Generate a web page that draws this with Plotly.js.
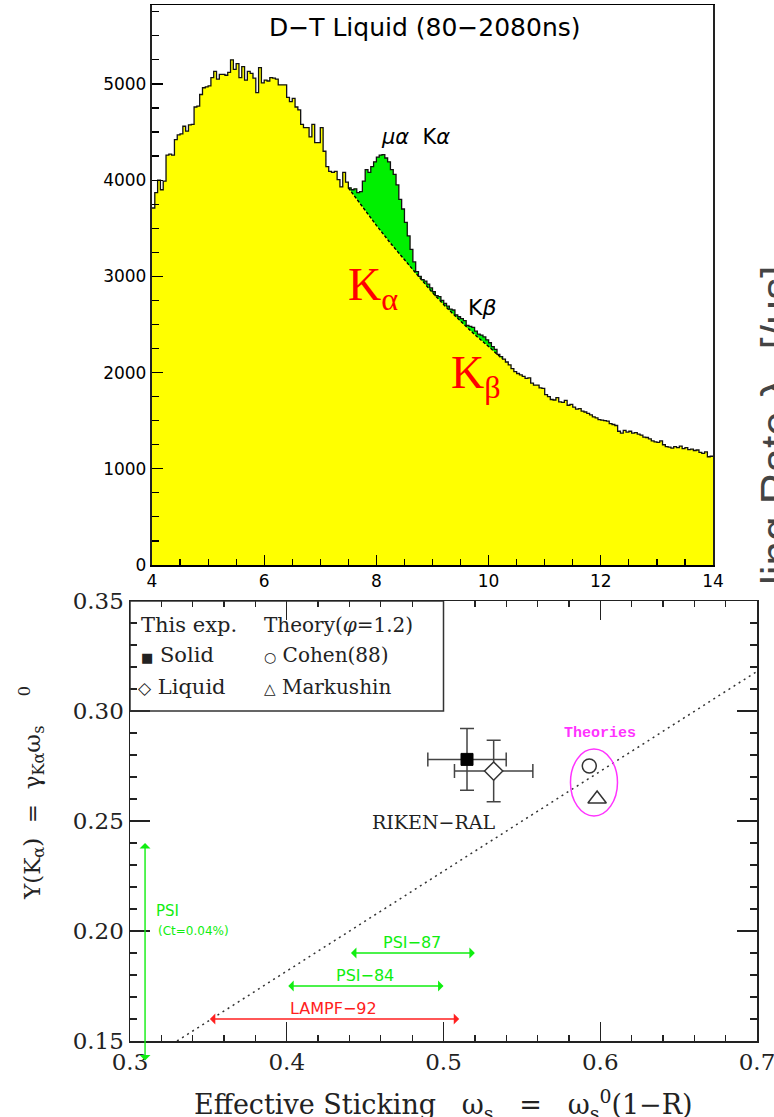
<!DOCTYPE html>
<html><head><meta charset="utf-8">
<script src="https://cdn.plot.ly/plotly-3.0.1.min.js"></script>
<style>html,body{margin:0;padding:0;background:#fff;} #chart{width:774px;height:1117px;}</style>
</head><body><div id="chart"></div>
<script>
const W = 774, H = 1117;

// ---------- Top panel: X-ray energy spectrum (keV), D-T liquid ----------
const binStart = 4.0, binWidth = 0.05;
const counts = [
 3710,3870,4000,3900,3990,4260,4270,4260,4420,4470,4480,4560,4510,4575,4580,4760,4770,4890,4960,4970,
 4980,5065,5130,5050,5100,5100,5090,5120,5250,5150,5210,5065,5180,5040,5130,5110,5060,4910,5170,5010,
 5040,5030,5065,5060,5050,4990,4990,4990,4860,4815,4850,4760,4730,4580,4545,4545,4450,4580,4390,4390,
 4545,4300,4140,4090,4080,4090,4005,3930,4080,3980,3920,3900,3910,3870,3880,3990,4110,4080,4140,4190,
 4240,4260,4265,4230,4190,4110,4060,3950,3800,3700,3560,3420,3280,3150,3050,3000,2965,2950,2920,2880,
 2840,2800,2790,2750,2720,2690,2660,2650,2600,2580,2560,2540,2490,2480,2470,2430,2400,2390,2370,2340,
 2310,2270,2240,2190,2165,2140,2110,2080,2040,2010,1990,1975,1960,1940,1945,1890,1870,1870,1840,1835,
 1770,1750,1720,1715,1740,1695,1690,1710,1660,1670,1640,1620,1625,1600,1590,1575,1560,1540,1530,1510,
 1505,1500,1495,1470,1460,1450,1390,1370,1400,1380,1390,1370,1375,1360,1350,1330,1325,1310,1290,1280,
 1275,1290,1250,1230,1225,1215,1230,1220,1235,1210,1220,1200,1205,1190,1195,1170,1160,1175,1125,1130
];
// background fit under the muonic-alpha K lines (dashed curve)
const bgX = [7.5, 7.75, 8.0, 8.25, 8.5, 8.75, 9.0, 9.25, 9.5, 9.75, 10.0, 10.25];
const bgY = [3920, 3720, 3530, 3345, 3170, 2995, 2830, 2675, 2530, 2395, 2270, 2140];
const topXTicks = [4, 6, 8, 10, 12, 14];

// ---------- Bottom panel: Y(K alpha) vs effective sticking ----------
const expNames = ['Solid', 'Liquid'];
const expX = [0.515, 0.532];
const expY = [0.278, 0.2727];
const expXErr = [0.025, 0.025];
const expYErr = [0.014, 0.014];
const theoryNames = ['Cohen(88)', 'Markushin'];
const theoryX = [0.593, 0.598];
const theoryY = [0.275, 0.260];
const fitX = [0.33, 0.70];
const fitY = [0.15, 0.318];
const otherExp = ['PSI−87', 'PSI−84', 'LAMPF−92'];
const otherLo = [0.44, 0.40, 0.35];
const otherHi = [0.52, 0.50, 0.51];
const otherY = [0.19, 0.175, 0.16];
const otherColor = ['#10ee10', '#10ee10', '#ff2020'];
const psiX = 0.3096, psiLo = 0.1405, psiHi = 0.24;
const theoryEllipse = {x0: 0.581, x1: 0.611, y0: 0.2523, y1: 0.2827};
const bottomXTicks = [0.3, 0.4, 0.5, 0.6, 0.7];
const bottomYTicks = [0.15, 0.20, 0.25, 0.30, 0.35];

// ---------- build ----------
const nb = counts.length;
const edges = counts.map((_, i) => +(binStart + i * binWidth).toFixed(3));
const stepX = edges.concat([+(binStart + nb * binWidth).toFixed(3)]);
const stepY = counts.concat([counts[nb - 1]]);
function bgAt(x) {
  for (let k = 0; k < bgX.length - 1; k++) {
    if (x >= bgX[k] - 1e-9 && x <= bgX[k + 1] + 1e-9) {
      const t = (x - bgX[k]) / (bgX[k + 1] - bgX[k]);
      return bgY[k] + t * (bgY[k + 1] - bgY[k]);
    }
  }
  return null;
}
const gX = [], gLo = [], gHi = [];
for (let i = 0; i < nb; i++) {
  const xl = edges[i], xr = +(xl + binWidth).toFixed(3);
  if (xl < bgX[0] - 1e-9 || xr > bgX[bgX.length - 1] + 1e-9) continue;
  const b1 = bgAt(xl), b2 = bgAt(xr);
  gX.push(xl, xr); gLo.push(b1, b2);
  gHi.push(Math.max(counts[i], b1), Math.max(counts[i], b2));
}

const traces = [
  {x: stepX, y: stepY, mode: 'lines', line: {shape: 'hv', width: 0, color: 'rgba(0,0,0,0)'},
   fill: 'tozeroy', fillcolor: '#ffff00', xaxis: 'x', yaxis: 'y', hoverinfo: 'skip'},
  {x: gX, y: gLo, mode: 'lines', line: {width: 0, color: 'rgba(0,0,0,0)'}, xaxis: 'x', yaxis: 'y', hoverinfo: 'skip'},
  {x: gX, y: gHi, mode: 'lines', line: {width: 0, color: 'rgba(0,0,0,0)'}, fill: 'tonexty',
   fillcolor: '#00f000', xaxis: 'x', yaxis: 'y', hoverinfo: 'skip'},
  {x: bgX, y: bgY, mode: 'lines', line: {color: '#000', width: 1.4, dash: '3px,2px'}, xaxis: 'x', yaxis: 'y'},
  {x: stepX, y: stepY, mode: 'lines', line: {shape: 'hv', color: '#111', width: 1.3}, xaxis: 'x', yaxis: 'y'},

  {x: fitX, y: fitY, mode: 'lines', line: {color: '#333', width: 1.5, dash: '2px,4px'}, xaxis: 'x2', yaxis: 'y2'},
  {x: [expX[0]], y: [expY[0]], name: expNames[0], mode: 'markers', xaxis: 'x2', yaxis: 'y2',
   marker: {symbol: 'square', size: 12, color: '#000', line: {color: '#000', width: 1}},
   error_x: {type: 'data', array: [expXErr[0]], color: '#444', thickness: 1.5, width: 7},
   error_y: {type: 'data', array: [expYErr[0]], color: '#444', thickness: 1.5, width: 7}},
  {x: [expX[1]], y: [expY[1]], name: expNames[1], mode: 'markers', xaxis: 'x2', yaxis: 'y2',
   marker: {symbol: 'diamond', size: 14, color: '#fff', line: {color: '#333', width: 1.5}},
   error_x: {type: 'data', array: [expXErr[1]], color: '#444', thickness: 1.5, width: 7},
   error_y: {type: 'data', array: [expYErr[1]], color: '#444', thickness: 1.5, width: 7}},
  {x: [theoryX[0]], y: [theoryY[0]], name: theoryNames[0], mode: 'markers', xaxis: 'x2', yaxis: 'y2',
   marker: {symbol: 'circle-open', size: 14, color: '#333', line: {color: '#333', width: 1.5}}},
  {x: [theoryX[1]], y: [theoryY[1]], name: theoryNames[1], mode: 'markers', xaxis: 'x2', yaxis: 'y2',
   marker: {symbol: 'triangle-up-open', size: 16, color: '#333', line: {color: '#333', width: 1.5}}}
];

const serif = 'DejaVu Serif, serif';
const sans = 'DejaVu Sans, Liberation Sans, sans-serif';
const sp = n => ' '.repeat(n);
const annotations = [
  {xref: 'x', yref: 'y', x: 8.875, y: 5585, xanchor: 'center', yanchor: 'middle', text: 'D−T Liquid (80−2080ns)', showarrow: false,
   font: {family: sans, size: 25, color: '#000'}},
  {xref: 'x', yref: 'y', x: 8.70, y: 4450, xanchor: 'center', yanchor: 'middle', text: '<i>μα</i>  K<i>α</i>', showarrow: false,
   font: {family: sans, size: 21, color: '#000'}},
  {xref: 'x', yref: 'y', x: 9.89, y: 2673, xanchor: 'center', yanchor: 'middle', text: 'K<i>β</i>', showarrow: false,
   font: {family: sans, size: 22, color: '#000'}},
  {xref: 'x', yref: 'y', x: 7.45, y: 2880, xanchor: 'left', yanchor: 'middle', text: 'K<sub>α</sub>', showarrow: false,
   font: {family: 'Liberation Serif, Times New Roman, serif', size: 46, color: '#ff0000'}},
  {xref: 'x', yref: 'y', x: 9.29, y: 1960, xanchor: 'left', yanchor: 'middle', text: 'K<sub>β</sub>', showarrow: false,
   font: {family: 'Liberation Serif, Times New Roman, serif', size: 46, color: '#ff0000'}},
  {xref: 'paper', yref: 'paper', x: 750 / W, y: 1 - 263 / H, xanchor: 'left', yanchor: 'top', textangle: -90,
   text: 'ling Rate λ<sub>c</sub> [/μs]', showarrow: false, font: {family: 'Liberation Sans, Arial, sans-serif', size: 44, color: '#444'}},

  // legend box contents
  {xref: 'x2', yref: 'y2', x: 0.3057, y: 0.3391, xanchor: 'left', yanchor: 'middle', text: 'This exp.', showarrow: false,
   font: {family: serif, size: 21, color: '#222'}},
  {xref: 'x2', yref: 'y2', x: 0.3845, y: 0.3391, xanchor: 'left', yanchor: 'middle', text: 'Theory(<i>φ</i>=1.2)', showarrow: false,
   font: {family: serif, size: 20, color: '#222'}},
  {xref: 'x2', yref: 'y2', x: 0.3055, y: 0.3255, xanchor: 'left', yanchor: 'middle', text: '<span style="font-size:13px">■</span> ' + expNames[0], showarrow: false,
   font: {family: serif, size: 21, color: '#222'}},
  {xref: 'x2', yref: 'y2', x: 0.3845, y: 0.3255, xanchor: 'left', yanchor: 'middle', text: '<span style="font-size:14px">○</span> ' + theoryNames[0], showarrow: false,
   font: {family: serif, size: 20, color: '#222'}},
  {xref: 'x2', yref: 'y2', x: 0.3040, y: 0.3109, xanchor: 'left', yanchor: 'middle', text: '<span style="font-size:17px">◇</span> ' + expNames[1], showarrow: false,
   font: {family: serif, size: 21, color: '#222'}},
  {xref: 'x2', yref: 'y2', x: 0.3845, y: 0.3109, xanchor: 'left', yanchor: 'middle', text: '<span style="font-size:15px">△</span> ' + theoryNames[1], showarrow: false,
   font: {family: serif, size: 20, color: '#222'}},

  {xref: 'x2', yref: 'y2', x: 0.5998, y: 0.290, xanchor: 'center', yanchor: 'middle', text: '<b>Theories</b>', showarrow: false,
   font: {family: 'Liberation Mono, DejaVu Sans Mono, monospace', size: 15, color: '#ff33ff'}},
  {xref: 'x2', yref: 'y2', x: 0.4933, y: 0.2495, xanchor: 'center', yanchor: 'middle', text: 'RIKEN−RAL', showarrow: false,
   font: {family: serif, size: 19, color: '#222'}},
  {xref: 'x2', yref: 'y2', x: 0.3155, y: 0.2091, xanchor: 'left', yanchor: 'middle', text: 'PSI', showarrow: false,
   font: {family: sans, size: 15, color: '#10ee10'}},
  {xref: 'x2', yref: 'y2', x: 0.3165, y: 0.2000, xanchor: 'left', yanchor: 'middle', text: '(Ct=0.04%)', showarrow: false,
   font: {family: sans, size: 12, color: '#10ee10'}},

  // axis titles for bottom panel
  {xref: 'paper', yref: 'paper', x: 443 / W, y: 1 - 1104 / H, xanchor: 'center', yanchor: 'middle',
   text: 'Effective Sticking' + sp(3) + 'ω<sub>s</sub>' + sp(3) + '=' + sp(3) + 'ω<sub>s</sub><sup>0</sup>(1−R)',
   showarrow: false, font: {family: serif, size: 27, color: '#222'}},
  {xref: 'paper', yref: 'paper', x: 31 / W, y: 1 - 793 / H, xanchor: 'center', yanchor: 'middle', textangle: -90,
   text: 'Y(K<sub>α</sub>)' + sp(2) + '=' + sp(2) + 'γ<sub>Kα</sub>ω<sub>s</sub>' + sp(4) + '<sup>0</sup>',
   showarrow: false, font: {family: serif, size: 23, color: '#222'}}
];

// horizontal arrows from other experiments
otherExp.forEach((name, i) => {
  annotations.push({xref: 'x2', yref: 'y2', axref: 'x2', ayref: 'y2', x: otherHi[i], y: otherY[i],
    ax: otherLo[i], ay: otherY[i], text: '', showarrow: true, arrowhead: 1, startarrowhead: 1,
    arrowside: 'end+start', arrowsize: 1.3, startarrowsize: 1.3, arrowwidth: 1.4, arrowcolor: otherColor[i],
    standoff: 0, startstandoff: 0});
  annotations.push({xref: 'x2', yref: 'y2', x: (otherLo[i] + otherHi[i]) / 2, y: otherY[i], yshift: 11,
    xanchor: 'center', yanchor: 'middle',
    text: name, showarrow: false, font: {family: sans, size: 16, color: otherColor[i]}});
});
annotations.push({xref: 'x2', yref: 'y2', axref: 'x2', ayref: 'y2', x: psiX, y: psiHi, ax: psiX, ay: psiLo,
  text: '', showarrow: true, arrowhead: 1, startarrowhead: 1, arrowside: 'end+start', arrowsize: 1.3,
  startarrowsize: 1.3, arrowwidth: 1.4, arrowcolor: '#10ee10', standoff: 0, startstandoff: 0});

const shapes = [
  {type: 'rect', xref: 'x2', yref: 'y2', x0: 0.3, x1: 0.5, y0: 0.30, y1: 0.35, line: {color: '#333', width: 1.5}},
  Object.assign({type: 'circle', xref: 'x2', yref: 'y2', line: {color: '#ff33ff', width: 1.5}}, theoryEllipse)
];

const layout = {
  width: W, height: H, margin: {l: 0, r: 0, t: 0, b: 0}, paper_bgcolor: '#fff', plot_bgcolor: 'rgba(0,0,0,0)',
  showlegend: false, annotations: annotations, shapes: shapes,
  xaxis: {domain: [152 / W, 713 / W], range: [4, 14], anchor: 'y', tickmode: 'array', tickvals: topXTicks,
    ticks: 'inside', ticklen: 10, tickwidth: 1.2, tickcolor: '#000',
    minor: {ticks: 'inside', ticklen: 6, tickwidth: 1.2, dtick: 0.5, tick0: 4, tickcolor: '#000', showgrid: false},
    showline: true, linecolor: '#000', linewidth: 1.5, mirror: true, showgrid: false, zeroline: false,
    tickfont: {family: sans, size: 17, color: '#000'}},
  yaxis: {domain: [1 - 565 / H, 1 - 5 / H], range: [0, 5820], anchor: 'x', tickmode: 'linear', tick0: 0, dtick: 1000,
    ticks: 'inside', ticklen: 11, tickwidth: 1.2, tickcolor: '#000',
    minor: {ticks: 'inside', ticklen: 7, tickwidth: 1.2, dtick: 250, tickcolor: '#000', showgrid: false},
    showline: true, linecolor: '#222', linewidth: 2.2, mirror: true, showgrid: false, zeroline: false,
    tickfont: {family: sans, size: 17, color: '#000'}},
  xaxis2: {domain: [130 / W, 757 / W], range: [0.3, 0.7], anchor: 'y2', tickmode: 'array', tickvals: bottomXTicks,
    ticktext: bottomXTicks.map(v => v.toFixed(1)), ticklabeloverflow: 'allow',
    ticks: 'inside', ticklen: 19, tickwidth: 1.3, tickcolor: '#222',
    minor: {ticks: 'inside', ticklen: 6, tickwidth: 1.3, dtick: 0.02, tick0: 0.3, tickcolor: '#222', showgrid: false},
    showline: true, linecolor: '#222', linewidth: 1.5, mirror: 'ticks', showgrid: false, zeroline: false,
    tickfont: {family: serif, size: 23, color: '#222'}},
  yaxis2: {domain: [1 - 1041 / H, 1 - 601 / H], range: [0.15, 0.35], anchor: 'x2', tickmode: 'array',
    tickvals: bottomYTicks, ticktext: bottomYTicks.map(v => v.toFixed(2)), ticks: 'inside', ticklen: 20, tickwidth: 1.3, tickcolor: '#222',
    minor: {ticks: 'inside', ticklen: 7, tickwidth: 1.3, dtick: 0.01, tick0: 0.15, tickcolor: '#222', showgrid: false},
    showline: true, linecolor: '#222', linewidth: 1.5, mirror: 'ticks', showgrid: false, zeroline: false,
    tickfont: {family: serif, size: 23, color: '#222'}}
};

Plotly.newPlot('chart', traces, layout, {staticPlot: true, displayModeBar: false});
</script>
</body></html>
